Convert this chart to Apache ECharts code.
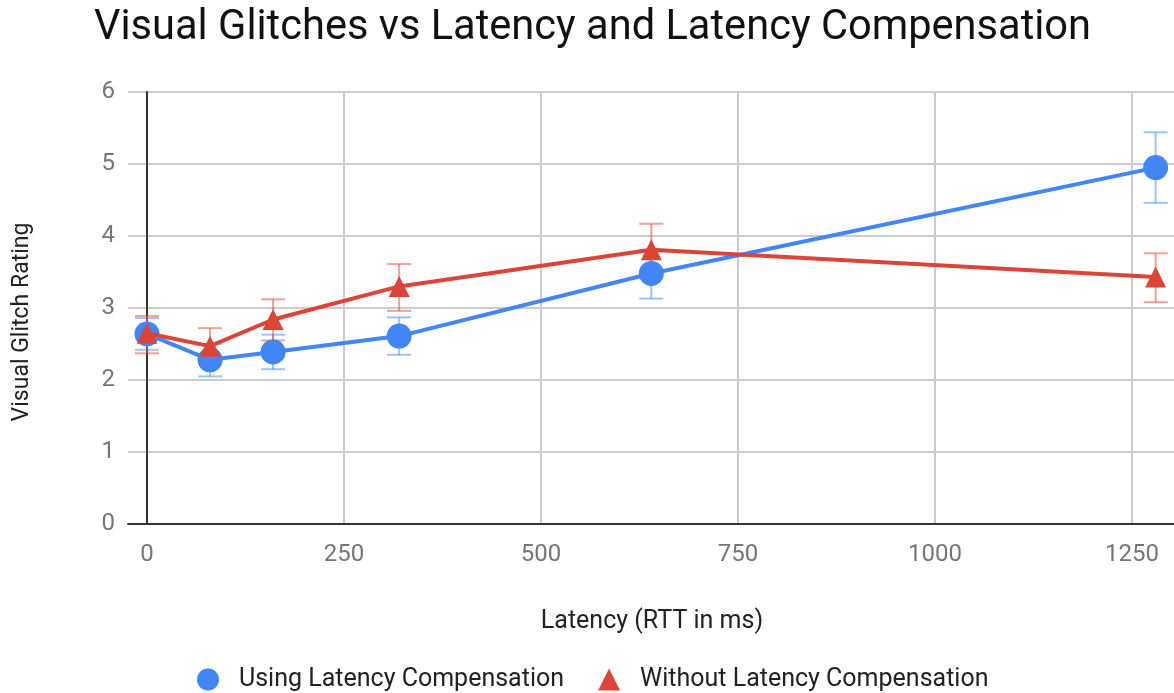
<!DOCTYPE html>
<html>
<head>
<meta charset="utf-8">
<script src="https://cdn.jsdelivr.net/npm/echarts@6/dist/echarts.min.js"></script>
<style>
  html, body { margin: 0; padding: 0; background: #fff; }
  #chart { width: 1174px; height: 693px; }
</style>
</head>
<body>
<div id="chart"></div>
<script>
// latency (RTT in ms)
const latency = [0, 80, 160, 320, 640, 1280]

// Using Latency Compensation
const withComp = [2.64, 2.28, 2.39, 2.61, 3.48, 4.95]
const withCompLow = [2.42, 2.05, 2.15, 2.35, 3.13, 4.46]
const withCompHigh = [2.86, 2.50, 2.63, 2.87, 3.81, 5.44]

// Without Latency Compensation
const noComp = [2.65, 2.47, 2.84, 3.30, 3.81, 3.43]
const noCompLow = [2.37, 2.24, 2.55, 2.96, 3.45, 3.08]
const noCompHigh = [2.89, 2.72, 3.12, 3.61, 4.17, 3.76]

const seriesNames = ['Using Latency Compensation', 'Without Latency Compensation']
const blue = '#4285F4'
const red = '#DB4437'
const font = 'Roboto, "Noto Sans", sans-serif'

const chart = echarts.init(document.getElementById('chart'))

const errorBars = (lo, hi, color, name) => ({
  name: name,
  type: 'custom',
  xAxisIndex: 1,
  yAxisIndex: 1,
  clip: false,
  silent: true,
  z: 1,
  data: latency.map((x, i) => [x, lo[i], hi[i]]),
  encode: { x: 0, y: [1, 2] },
  renderItem: function (params, api) {
    const x = api.value(0)
    const a = api.coord([x, api.value(1)])
    const b = api.coord([x, api.value(2)])
    const half = 12
    const style = { stroke: color, lineWidth: 2, opacity: 0.5 }
    return {
      type: 'group',
      children: [
        { type: 'line', shape: { x1: a[0], y1: a[1], x2: b[0], y2: b[1] }, style: style },
        { type: 'line', shape: { x1: a[0] - half, y1: a[1], x2: a[0] + half, y2: a[1] }, style: style },
        { type: 'line', shape: { x1: b[0] - half, y1: b[1], x2: b[0] + half, y2: b[1] }, style: style }
      ]
    }
  }
})

const option = {
  animation: false,
  textStyle: { fontFamily: font },
  title: {
    text: 'Visual Glitches vs Latency and Latency Compensation',
    left: 89,
    top: 3,
    textStyle: { fontSize: 41.6, fontWeight: 'normal', color: '#111', fontFamily: font }
  },
  legend: {
    data: [
      { name: seriesNames[0], icon: 'circle' },
      { name: seriesNames[1], icon: 'triangle' }
    ],
    left: 192,
    top: 662,
    itemWidth: 22,
    itemHeight: 22,
    itemGap: 34,
    textStyle: { fontSize: 25, color: '#222', padding: [0, 0, 0, 15], fontFamily: font }
  },
  graphic: [
    {
      type: 'text',
      x: 22,
      y: 322,
      rotation: Math.PI / 2,
      style: {
        text: 'Visual Glitch Rating',
        fontSize: 23,
        fontFamily: font,
        fill: '#222',
        align: 'center',
        verticalAlign: 'middle'
      }
    },
    {
      type: 'text',
      x: 652,
      y: 622,
      style: {
        text: 'Latency (RTT in ms)',
        fontSize: 25,
        fontFamily: font,
        fill: '#222',
        align: 'center',
        verticalAlign: 'middle'
      }
    }
  ],
  grid: [
    { left: 128, right: -155, top: 92, bottom: 169, outerBoundsMode: 'none', containLabel: false },
    { left: 147, right: -155, top: 92, bottom: 169, outerBoundsMode: 'none', containLabel: false }
  ],
  xAxis: [
    {
      gridIndex: 0,
      type: 'value',
      min: 0,
      max: 1,
      axisLine: { show: true, lineStyle: { color: '#333', width: 2 } },
      axisTick: { show: false },
      axisLabel: { show: false },
      splitLine: { show: false }
    },
    {
      gridIndex: 1,
      type: 'value',
      min: 0,
      max: 1500,
      interval: 250,
      axisLine: { show: false },
      axisTick: { show: false },
      axisLabel: { fontSize: 24, color: '#757575', margin: 19, fontFamily: font, formatter: v => String(v) },
      splitLine: { show: true, lineStyle: { color: '#ccc', width: 2 } }
    }
  ],
  yAxis: [
    {
      gridIndex: 0,
      type: 'value',
      min: 0,
      max: 6,
      interval: 1,
      axisLine: { show: false },
      axisTick: { show: false },
      axisLabel: { fontSize: 24, color: '#757575', margin: 13, fontFamily: font },
      splitLine: { show: true, lineStyle: { color: '#ccc', width: 2 } }
    },
    {
      gridIndex: 1,
      type: 'value',
      min: 0,
      max: 6,
      interval: 1,
      axisLine: { show: true, lineStyle: { color: '#333', width: 2 } },
      axisTick: { show: false },
      axisLabel: { show: false },
      splitLine: { show: false }
    }
  ],
  series: [
    errorBars(withCompLow, withCompHigh, blue, 'err-using'),
    errorBars(noCompLow, noCompHigh, red, 'err-without'),
    {
      name: seriesNames[0],
      type: 'line',
      xAxisIndex: 1,
      yAxisIndex: 1,
      data: latency.map((x, i) => [x, withComp[i]]),
      symbol: 'circle',
      symbolSize: 25,
      showAllSymbol: true,
      clip: false,
      z: 3,
      lineStyle: { color: blue, width: 4 },
      itemStyle: { color: blue }
    },
    {
      name: seriesNames[1],
      type: 'line',
      xAxisIndex: 1,
      yAxisIndex: 1,
      data: latency.map((x, i) => [x, noComp[i]]),
      symbol: 'triangle',
      symbolSize: 21,
      showAllSymbol: true,
      clip: false,
      z: 4,
      lineStyle: { color: red, width: 4 },
      itemStyle: { color: red }
    }
  ]
}

chart.setOption(option)
</script>
</body>
</html>
